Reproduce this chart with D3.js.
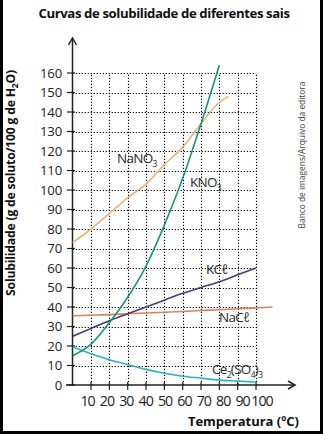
<!DOCTYPE html>
<html>
<head>
<meta charset="utf-8">
<script src="https://cdn.jsdelivr.net/npm/d3@7"></script>
<style>
  html, body { margin: 0; padding: 0; background: #fff; }
  svg { display: block; }
</style>
</head>
<body>
<svg id="chart" width="323" height="434"></svg>
<script>
// Solubility data (g of solute per 100 g of water) by temperature (°C)
const tempTicks = [10, 20, 30, 40, 50, 60, 70, 80, 90, 100];
const solTicks = [0, 10, 20, 30, 40, 50, 60, 70, 80, 90, 100, 110, 120, 130, 140, 150, 160];

const nano3Temps = [0, 10, 20, 30, 40, 50, 60, 70, 80, 85];
const nano3Vals  = [73, 80, 88, 96, 103, 113, 122, 134, 145, 148];

const kno3Temps = [0, 10, 20, 30, 40, 50, 60, 70, 80];
const kno3Vals  = [15, 21, 32, 45, 61, 82, 106, 134, 164];

const kclTemps = [0, 10, 20, 30, 40, 50, 60, 70, 80, 90, 100];
const kclVals  = [25, 29, 33, 36.5, 40, 43.5, 47, 50, 53, 56.5, 60];

const naclTemps = [0, 10, 20, 30, 40, 50, 60, 70, 80, 90, 100, 109];
const naclVals  = [35.5, 35.8, 36.1, 36.5, 36.9, 37.3, 37.7, 38.2, 38.6, 39.1, 39.5, 40];

const ceTemps = [0, 10, 20, 30, 40, 50, 60, 70, 80, 90, 100];
const ceVals  = [19.5, 16, 13, 10.5, 8, 6, 4.5, 3.5, 2.5, 2, 1.5];

const svg = d3.select("#chart");
const W = 323, H = 434;

// frame
svg.append("rect").attr("x", 0).attr("y", 0).attr("width", W).attr("height", H).attr("fill", "#fff");
svg.append("path")
  .attr("d", `M1.5,0 V${H - 1.5} H${W - 1.5} V0`)
  .attr("fill", "none").attr("stroke", "#000").attr("stroke-width", 3);

const x = d3.scaleLinear().domain([0, 100]).range([72.7, 256]);
const y = d3.scaleLinear().domain([0, 160]).range([385, 73]);
// temperature labels sit in a tight run slightly wider than the tick spacing
const xLabel = d3.scaleLinear().domain([10, 100]).range([87.5, 262]);

const font = "'Open Sans', sans-serif";

// title
svg.append("text")
  .attr("x", 164).attr("y", 18)
  .attr("text-anchor", "middle")
  .attr("font-family", font).attr("font-weight", 700)
  .attr("font-size", 13.2).attr("letter-spacing", -0.4)
  .attr("fill", "#111")
  .text("Curvas de solubilidade de diferentes sais");

// dotted grid
const grid = svg.append("g").attr("stroke", "#000").attr("stroke-width", 1.1)
  .attr("stroke-dasharray", "1.2,1.8");
grid.selectAll("line.v").data(tempTicks).join("line")
  .attr("x1", d => Math.round(x(d)) + 0.5).attr("x2", d => Math.round(x(d)) + 0.5)
  .attr("y1", y(0)).attr("y2", y(160));
grid.selectAll("line.h").data(solTicks.filter(d => d > 0)).join("line")
  .attr("y1", d => Math.round(y(d)) + 0.5).attr("y2", d => Math.round(y(d)) + 0.5)
  .attr("x1", x(0)).attr("x2", x(100));

// axes with arrows
const axisG = svg.append("g").attr("stroke", "#222").attr("fill", "none").attr("stroke-width", 1.5);
axisG.append("line").attr("x1", 72.5).attr("x2", 72.5).attr("y1", y(0) + 1).attr("y2", 38);
axisG.append("path").attr("d", "M68.5,45 L72.5,38 L76.5,45");
axisG.append("line").attr("x1", 66).attr("x2", 295).attr("y1", y(0)).attr("y2", y(0));
axisG.append("path").attr("d", `M288,${y(0) - 4} L295,${y(0)} L288,${y(0) + 4}`);

// tick marks
svg.append("g").attr("stroke", "#222").attr("stroke-width", 1.2)
  .selectAll("line").data(solTicks).join("line")
  .attr("x1", 67).attr("x2", 75)
  .attr("y1", d => y(d)).attr("y2", d => y(d));
svg.append("g").attr("stroke", "#222").attr("stroke-width", 1.2)
  .selectAll("line").data(tempTicks).join("line")
  .attr("x1", d => x(d)).attr("x2", d => x(d))
  .attr("y1", y(0) - 3).attr("y2", y(0) + 5);

// tick labels
svg.append("g").selectAll("text").data(solTicks).join("text")
  .attr("x", 62).attr("y", d => y(d) + 4.8)
  .attr("text-anchor", "end")
  .attr("font-family", font).attr("font-size", 13.2)
  .attr("letter-spacing", -0.2)
  .attr("fill", "#222")
  .text(d => d);
svg.append("g").selectAll("text").data(tempTicks).join("text")
  .attr("x", d => xLabel(d)).attr("y", 406)
  .attr("text-anchor", "middle")
  .attr("font-family", font).attr("font-size", 14.2).attr("letter-spacing", -1)
  .attr("fill", "#222")
  .text(d => d);

// axis titles
const yl = svg.append("text")
  .attr("transform", "translate(15,183) rotate(-90)")
  .attr("text-anchor", "middle")
  .attr("font-family", font).attr("font-weight", 700).attr("font-size", 12.2)
  .attr("letter-spacing", -0.2)
  .attr("fill", "#111");
yl.append("tspan").text("Solubilidade (g de soluto/100 g de H");
yl.append("tspan").attr("font-size", 8.5).attr("dy", 3).text("2");
yl.append("tspan").attr("dy", -3).text("O)");

svg.append("text")
  .attr("x", 299).attr("y", 426)
  .attr("text-anchor", "end")
  .attr("font-family", font).attr("font-weight", 700).attr("font-size", 13)
  .attr("fill", "#111")
  .text("Temperatura (ºC)");

// credit
svg.append("text")
  .attr("transform", "translate(305,155) rotate(-90)")
  .attr("text-anchor", "middle")
  .attr("font-family", font).attr("font-size", 8.4)
  .attr("fill", "#444")
  .text("Banco de imagens/Arquivo da editora");

// curves
const series = [
  { t: nano3Temps, v: nano3Vals, color: "#e6b47c" },
  { t: naclTemps, v: naclVals, color: "#d9825a" },
  { t: kclTemps, v: kclVals, color: "#4a3a78" },
  { t: ceTemps, v: ceVals, color: "#2ab2c8" },
  { t: kno3Temps, v: kno3Vals, color: "#1a9478" }
];
const line = d3.line().x(d => x(d[0])).y(d => y(d[1])).curve(d3.curveMonotoneX);
svg.append("g").selectAll("path").data(series).join("path")
  .attr("d", s => line(s.t.map((t, i) => [t, s.v[i]])))
  .attr("fill", "none")
  .attr("stroke", s => s.color)
  .attr("stroke-width", 1.6);

// curve labels: segments of [text, isSubscript]
function label(px, py, parts) {
  const t = svg.append("text")
    .attr("x", px).attr("y", py)
    .attr("font-family", font).attr("font-size", 13.5)
    .attr("letter-spacing", -0.7)
    .attr("fill", "#2a2a2a");
  let low = false;
  parts.forEach(([txt, sub]) => {
    const sp = t.append("tspan").text(txt);
    if (sub && !low) { sp.attr("dy", 3.5); low = true; }
    else if (!sub && low) { sp.attr("dy", -3.5); low = false; }
    if (sub) sp.attr("font-size", 8.5);
  });
}
label(117, 163, [["NaNO", 0], ["3", 1]]);
label(190, 187, [["KNO", 0], ["3", 1]]);
label(206, 274, [["KCℓ", 0]]);
label(219, 322, [["NaCℓ", 0]]);
label(212, 374, [["Ce", 0], ["2", 1], ["(SO", 0], ["4", 1], [")", 0], ["3", 1]]);
</script>
</body>
</html>
